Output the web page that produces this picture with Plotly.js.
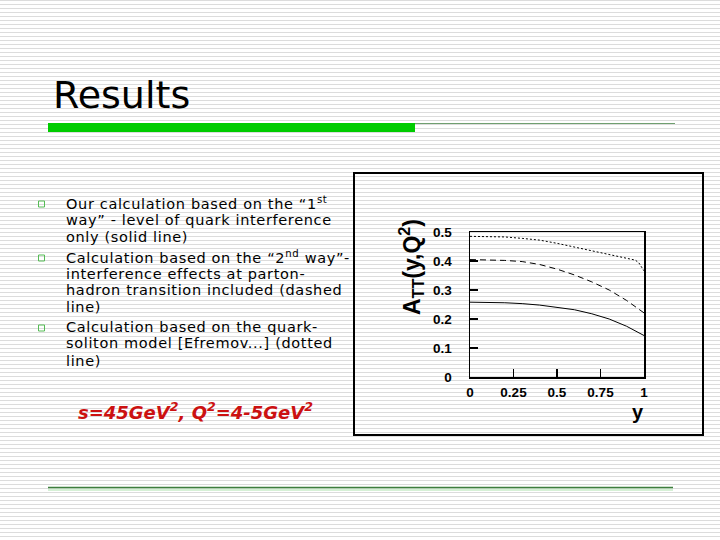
<!DOCTYPE html>
<html>
<head>
<meta charset="utf-8">
<script src="https://cdn.plot.ly/plotly-3.0.1.min.js"></script>
<style>
  html, body { margin: 0; padding: 0; }
  body {
    width: 720px; height: 540px; overflow: hidden;
    background: repeating-linear-gradient(to bottom, #dcdcdc 0px, #dcdcdc 1px, #ffffff 1px, #ffffff 4px);
  }
  #chart { width: 720px; height: 540px; }
</style>
</head>
<body>
<div id="chart"></div>
<script>
  // values
  const yValues   = [0, 0.1, 0.2, 0.3, 0.4, 0.5, 0.6, 0.7, 0.8, 0.9, 1.0];
  const solidA    = [0.258, 0.258, 0.256, 0.253, 0.248, 0.240, 0.232, 0.218, 0.200, 0.175, 0.143];
  const dashedA   = [0.405, 0.404, 0.402, 0.398, 0.388, 0.372, 0.352, 0.328, 0.300, 0.264, 0.221];
  const dottedY   = [0, 0.1, 0.2, 0.3, 0.4, 0.5, 0.6, 0.7, 0.8, 0.9, 0.95, 0.97, 1.0];
  const dottedA   = [0.485, 0.485, 0.483, 0.478, 0.472, 0.461, 0.448, 0.436, 0.422, 0.410, 0.403, 0.394, 0.366];

  const xTicks     = [0, 0.25, 0.5, 0.75, 1];
  const xTickText  = ['0', '0.25', '0.5', '0.75', '1'];
  const yTicks     = [0, 0.1, 0.2, 0.3, 0.4, 0.5];
  const yTickText  = ['0', '0.1', '0.2', '0.3', '0.4', '0.5'];

  const bulletLines = [
    'Our calculation based on the \u201c1<sup>st</sup>',
    'way\u201d - level of quark interference',
    'only (solid line)',
    'Calculation based on the \u201c2<sup>nd</sup> way\u201d-',
    'interference effects at parton-',
    'hadron transition included (dashed',
    'line)',
    'Calculation based on the quark-',
    'soliton model [Efremov...] (dotted',
    'line)'
  ];
  const lineY = [203, 220, 237, 257, 274, 290, 307, 327, 343, 361];
  const bulletY = [204, 258, 328];

  // pixel -> paper helpers
  const W = 720, H = 540;
  const px = x => x / W;
  const py = y => 1 - y / H;

  const traces = [
    {x: yValues, y: solidA, mode: 'lines', line: {color: '#000', width: 1}, showlegend: false},
    {x: yValues, y: dashedA, mode: 'lines', line: {color: '#000', width: 1, dash: '6px,4px'}, showlegend: false},
    {x: dottedY, y: dottedA, mode: 'lines', line: {color: '#000', width: 1, dash: '2px,2px'}, showlegend: false}
  ];

  const shapes = [
    // outer figure box
    {type: 'rect', xref: 'paper', yref: 'paper', x0: px(354), x1: px(703), y0: py(435), y1: py(173),
     line: {color: '#000', width: 2}},
    // title underline: thick green bar + thin line
    {type: 'rect', xref: 'paper', yref: 'paper', x0: px(48), x1: px(415), y0: py(132), y1: py(123),
     line: {width: 0}, fillcolor: '#00cc00'},
    {type: 'line', xref: 'paper', yref: 'paper', x0: px(415), x1: px(675), y0: py(123.5), y1: py(123.5),
     line: {color: '#6f9f6f', width: 1}},
    // bottom line
    {type: 'rect', xref: 'paper', yref: 'paper', x0: px(48), x1: px(673), y0: py(491), y1: py(488.5),
     line: {width: 0}, fillcolor: '#d6f0d6'},
    {type: 'line', xref: 'paper', yref: 'paper', x0: px(48), x1: px(673), y0: py(487.5), y1: py(487.5),
     line: {color: '#3f7f3f', width: 1.5}}
  ];
  bulletY.forEach(b => {
    shapes.push({type: 'rect', xref: 'paper', yref: 'paper', x0: px(38.5), x1: px(44.5), y0: py(b + 3), y1: py(b - 3),
      line: {color: '#55bb55', width: 1}, fillcolor: 'rgba(0,0,0,0)'});
  });

  // bullet text lines come first so they are annotations 0..9
  const annotations = bulletLines.map((t, i) => ({
    text: t, xref: 'paper', yref: 'paper', x: px(64), y: py(lineY[i]),
    xanchor: 'left', yanchor: 'middle', align: 'left', showarrow: false,
    font: {family: 'DejaVu Sans', size: 14.5, color: '#000'}
  }));

  annotations.push(
    {text: 'Results', xref: 'paper', yref: 'paper', x: px(51), y: py(95), xanchor: 'left', yanchor: 'middle',
     showarrow: false, font: {family: 'DejaVu Sans', size: 38, color: '#000'}},
    {text: '<b><i>s=45GeV<sup>2</sup>, Q<sup>2</sup>=4-5GeV<sup>2</sup></i></b>', xref: 'paper', yref: 'paper',
     x: px(76), y: py(411), xanchor: 'left', yanchor: 'middle', showarrow: false,
     font: {family: 'DejaVu Sans', size: 18, color: '#cc1111'}},
    // axis titles
    {text: '<b>A<sub>TT</sub>(y,Q<sup>2</sup>)</b>', xref: 'paper', yref: 'paper', x: px(411), y: py(267),
     xanchor: 'center', yanchor: 'middle', textangle: -90, showarrow: false,
     font: {family: 'Liberation Sans, Arial', size: 23, color: '#000'}},
    {text: '<b>y</b>', xref: 'paper', yref: 'paper', x: px(638), y: py(412),
     xanchor: 'center', yanchor: 'middle', showarrow: false,
     font: {family: 'Liberation Sans, Arial', size: 20, color: '#000'}}
  );

  const axisFont = {family: 'Liberation Sans, Arial', size: 13.5, color: '#000', weight: 'bold'};

  const layout = {
    width: W, height: H,
    margin: {l: 0, r: 0, t: 0, b: 0},
    paper_bgcolor: 'rgba(0,0,0,0)',
    plot_bgcolor: 'rgba(0,0,0,0)',
    showlegend: false,
    xaxis: {
      domain: [px(470), px(644)],
      range: [0, 1],
      tickvals: xTicks, ticktext: xTickText,
      ticks: 'inside', ticklen: 8, tickwidth: 1.5, tickcolor: '#000',
      showline: true, mirror: true, linecolor: '#000', linewidth: 1.5,
      showgrid: false, zeroline: false,
      tickfont: axisFont, ticklabelstandoff: 2
    },
    yaxis: {
      domain: [py(377), py(232)],
      range: [0, 0.5],
      tickvals: yTicks, ticktext: yTickText,
      ticks: 'inside', ticklen: 8, tickwidth: 1.5, tickcolor: '#000',
      showline: true, mirror: true, linecolor: '#000', linewidth: 1.5,
      showgrid: false, zeroline: false,
      tickfont: axisFont, ticklabelstandoff: 14
    },
    shapes: shapes,
    annotations: annotations
  };

  Plotly.newPlot('chart', traces, layout, {displayModeBar: false, staticPlot: true}).then(gd => {
    // the slide text is set wide (Verdana-like spacing)
    gd.querySelectorAll('g.annotation').forEach(g => {
      if (+g.getAttribute('data-index') < bulletLines.length) {
        g.querySelector('text').style.letterSpacing = '0.65px';
      }
    });
  });
</script>
</body>
</html>
